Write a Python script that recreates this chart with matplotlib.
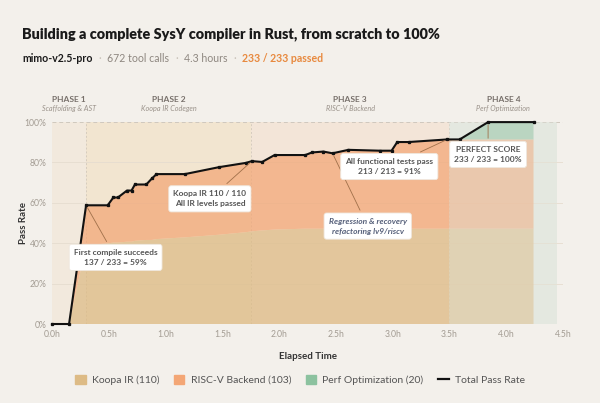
import matplotlib
matplotlib.use("Agg")
import matplotlib.pyplot as plt
import matplotlib.patches as mpatches
from matplotlib.lines import Line2D
import numpy as np

plt.rcParams['font.family'] = ['Lato', 'DejaVu Sans']

TOTAL_TESTS = 233

# elapsed time (hours) and tests passed
hours = [0.0, 0.15, 0.30, 0.49, 0.54, 0.58, 0.66, 0.70, 0.73, 0.83, 0.88, 0.92,
         1.17, 1.47, 1.71, 1.76, 1.85, 1.96, 2.23, 2.29, 2.39, 2.47, 2.61, 2.89,
         2.99, 3.04, 3.14, 3.48, 3.59, 3.84, 4.24]
koopa = [0, 0, 91, 93, 94, 94, 95, 95, 96, 97, 97, 98,
         100, 103, 106, 107, 108, 109, 110, 110, 110, 110, 110, 110,
         110, 110, 110, 110, 110, 110, 110]
total = [0, 0, 137, 137, 146, 146, 154, 154, 161, 161, 168, 173,
         173, 181, 186, 188, 187, 195, 195, 198, 199, 197, 201, 200,
         200, 210, 210, 213, 213, 233, 233]
perf = [0] * 29 + [20, 20]
riscv = [t - k - p for t, k, p in zip(total, koopa, perf)]

phase_edges = [0.0, 0.3, 1.75, 3.5, 4.45]
phase_names = ["PHASE 1", "PHASE 2", "PHASE 3", "PHASE 4"]
phase_desc = ["Scaffolding & AST", "Koopa IR Codegen", "RISC-V Backend", "Perf Optimization"]
phase_bg = ["#F2E9DD", "#F2E5D0", "#F3E5D8", "#E6E9E1"]

pct = lambda v: np.array(v) / TOTAL_TESTS * 100

BG = "#F3F0EB"
C_KOOPA = "#DDBB85"
C_RISCV = "#F3A675"
C_PERF = "#8CC29F"

fig = plt.figure(figsize=(6.0, 4.03), dpi=100, facecolor=BG)
ax = fig.add_axes([0.0867, 0.196, 0.8517, 0.501])
ax.set_facecolor(BG)

for i in range(4):
    ax.axvspan(phase_edges[i], phase_edges[i + 1], color=phase_bg[i], zorder=0, lw=0)

ax.stackplot(hours, pct(koopa), pct(riscv), pct(perf),
             colors=[C_KOOPA, C_RISCV, C_PERF], alpha=0.72, zorder=2, lw=0)

# phase 4 tint over the areas
ax.axvspan(phase_edges[3], phase_edges[4], color="#E3E7DF", alpha=0.35, zorder=3, lw=0)

for y in [20, 40, 60, 80]:
    ax.axhline(y, color="#E6DCCF", lw=0.6, zorder=1)
ax.axhline(100, color="#CFC8BE", lw=0.7, ls=(0, (4, 3)), zorder=1)
for x in phase_edges[1:4]:
    ax.axvline(x, color="#D6CCBE", lw=0.7, ls=(0, (2, 2)), zorder=1)

ax.plot(hours, pct(total), color="#111111", lw=1.5, marker="s", ms=1.4,
        zorder=6, clip_on=False)

ax.set_xlim(0, 4.5)
ax.set_ylim(0, 100)
ax.set_xticks(np.arange(0, 4.51, 0.5))
ax.set_xticklabels([f"{v:.1f}h" for v in np.arange(0, 4.51, 0.5)])
ax.set_yticks([0, 20, 40, 60, 80, 100])
ax.set_yticklabels([f"{v}%" for v in [0, 20, 40, 60, 80, 100]])
ax.tick_params(length=0, labelsize=6.2, colors="#A39C93", pad=4)
for s in ax.spines.values():
    s.set_visible(False)
ax.set_xlabel("Elapsed Time", fontsize=7, fontweight="bold", color="#333333", labelpad=10)
ax.set_ylabel("Pass Rate", fontsize=7, fontweight="bold", color="#333333")
ax.yaxis.set_label_coords(-0.047, 0.5)

# phase headers
for i in range(4):
    xc = (phase_edges[i] + phase_edges[i + 1]) / 2
    ax.text(xc, 111, phase_names[i], ha="center", va="center", fontsize=6,
            fontweight="bold", color="#77706A", clip_on=False)
    ax.text(xc, 106.5, phase_desc[i], ha="center", va="center", fontsize=5.2,
            style="italic", color="#9A928A", clip_on=False)

# annotations
box = dict(boxstyle="round,pad=0.55,rounding_size=0.3", fc="white", ec="#EFE8DF", lw=0.6)
arrow = dict(arrowstyle="-", color="#A0704A", lw=0.6)
notes = [
    ("First compile succeeds\n137 / 233 = 59%", (0.30, 137), (0.56, 33), "normal", "#555555"),
    ("Koopa IR 110 / 110\nAll IR levels passed", (1.76, 188), (1.39, 62), "normal", "#555555"),
    ("Regression & recovery\nrefactoring lv9/riscv", (2.47, 197), (2.78, 48.5), "italic", "#56607A"),
    ("All functional tests pass\n213 / 213 = 91%", (3.48, 213), (2.97, 78), "normal", "#555555"),
    ("PERFECT SCORE\n233 / 233 = 100%", (3.84, 233), (3.84, 84), "normal", "#555555"),
]
for text, (px, pv), (tx, ty), st, col in notes:
    ax.annotate(text, xy=(px, pv / TOTAL_TESTS * 100), xytext=(tx, ty),
                ha="center", va="center", fontsize=6, fontweight="bold",
                style=st, color=col, bbox=box, arrowprops=arrow, zorder=8,
                linespacing=1.5)

# title and subtitle
fig.text(0.037, 0.916, "Building a complete SysY compiler in Rust, from scratch to 100%",
         fontsize=10.4, fontweight="heavy", color="#1A1A1A", va="center")

renderer = fig.canvas.get_renderer()
sub = [("mimo-v2.5-pro", "#1A1A1A", "bold"),
       ("·", "#C9C2B9", "normal"),
       ("672 tool calls", "#8E8780", "normal"),
       ("·", "#C9C2B9", "normal"),
       ("4.3 hours", "#8E8780", "normal"),
       ("·", "#C9C2B9", "normal"),
       ("233 / 233 passed", "#E8893E", "bold")]
x = 22
for s, c, w in sub:
    t = fig.text(x / 600, 0.856, s, fontsize=7.6, color=c, fontweight=w, va="center")
    x = t.get_window_extent(renderer).x1 + 6

handles = [mpatches.Patch(color=C_KOOPA, label="Koopa IR (110)"),
           mpatches.Patch(color=C_RISCV, label="RISC-V Backend (103)"),
           mpatches.Patch(color=C_PERF, label="Perf Optimization (20)"),
           Line2D([0], [0], color="#111111", lw=1.6, label="Total Pass Rate")]
fig.legend(handles=handles, loc="center", bbox_to_anchor=(0.5, 0.058), ncol=4,
           frameon=False, fontsize=7.5, labelcolor="#555555", handlelength=1.0,
           handleheight=1.0, columnspacing=1.4, handletextpad=0.6)

fig.savefig("out.png", dpi=100, facecolor=BG)
